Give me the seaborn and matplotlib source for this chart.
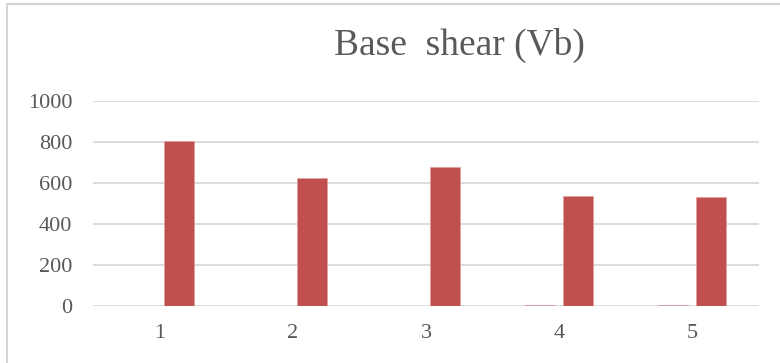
import matplotlib
matplotlib.use("Agg")
import matplotlib.pyplot as plt
from matplotlib.lines import Line2D
import pandas as pd
import seaborn as sns

# Storey / case numbers on the x axis
categories = ["1", "2", "3", "4", "5"]
# Two series: a near-zero reference series and the base shear values
series_names = ["Series1", "Base shear"]
series1_values = [0, 0, 0, 3, 4]
base_shear_values = [802, 622, 677, 534, 531]
y_ticks = [0, 200, 400, 600, 800, 1000]

df = pd.DataFrame({
    "case": categories * 2,
    "series": [series_names[0]] * len(categories) + [series_names[1]] * len(categories),
    "value": series1_values + base_shear_values,
})

sns.set_theme(style="white")
plt.rcParams["font.family"] = ["Liberation Serif", "DejaVu Serif"]

text_color = "#595959"
grid_color = "#D9D9D9"

fig = plt.figure(figsize=(7.8, 3.63), dpi=100)
ax = fig.add_axes([93 / 780, 1 - 306 / 363, 666 / 780, (306 - 100.7) / 363])

sns.barplot(
    data=df, x="case", y="value", hue="series", order=categories,
    hue_order=series_names, palette=["#4F81BD", "#C0504D"],
    width=0.571, gap=0.21, dodge=True, legend=False, ax=ax,
    edgecolor=None, linewidth=0, saturation=1,
)
for patch in ax.patches:
    patch.set_edgecolor("#E3A09E")
    patch.set_linewidth(0.6)

ax.set_ylim(0, 1000)
ax.set_xlim(-0.5, len(categories) - 0.5)
ax.set_yticks(y_ticks)
ax.set_yticklabels([str(t) for t in y_ticks])
ax.yaxis.grid(True, color=grid_color, linewidth=1.3)
ax.set_axisbelow(True)
for s in ax.spines.values():
    s.set_visible(False)
ax.tick_params(axis="both", length=0, colors=text_color, labelsize=16)
ax.tick_params(axis="y", pad=15)
ax.tick_params(axis="x", pad=13)
ax.set_xlabel("")
ax.set_ylabel("")

fig.text(459 / 780, 1 - 45 / 363, "Base  shear (Vb)", ha="center", va="center",
         fontsize=27, color=text_color)

# chart frame: left and top edges
fig.add_artist(Line2D([7 / 780, 7 / 780], [0, 1 - 4 / 363], color="#D4D4D4",
                      linewidth=1.5, transform=fig.transFigure))
fig.add_artist(Line2D([7 / 780, 1], [1 - 4 / 363, 1 - 4 / 363], color="#D4D4D4",
                      linewidth=1.5, transform=fig.transFigure))

fig.savefig("out.png", dpi=100)
